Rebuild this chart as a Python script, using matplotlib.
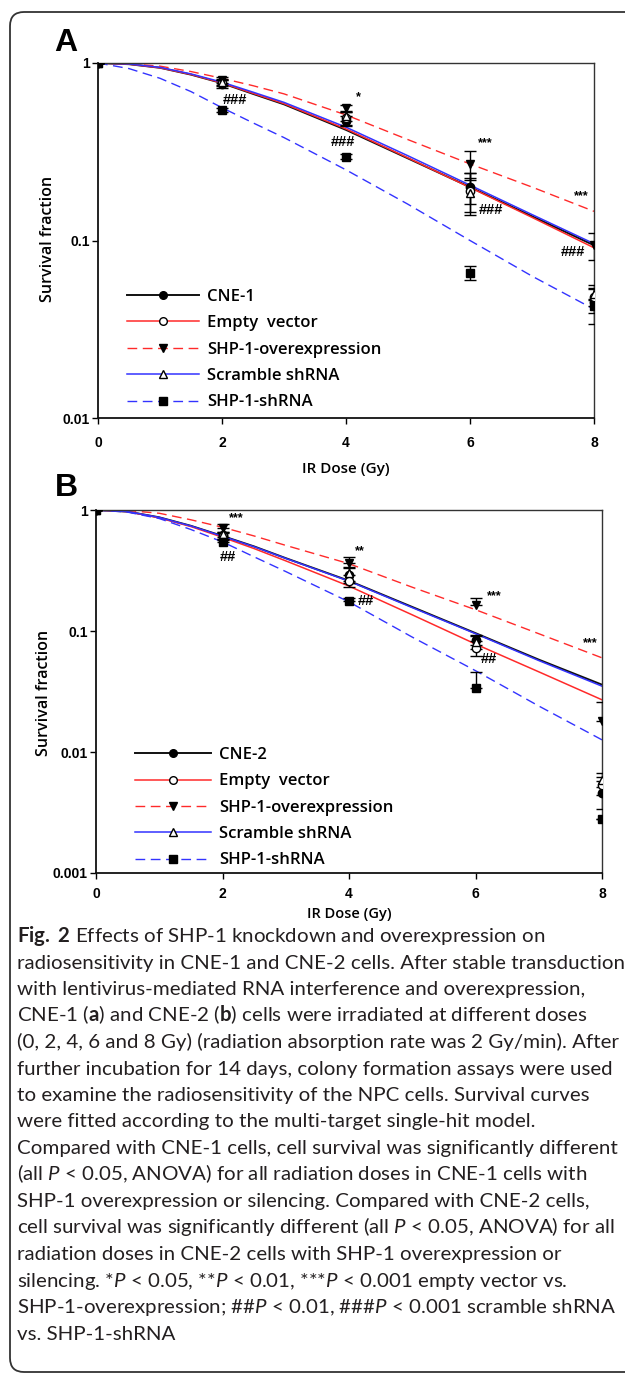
import matplotlib
matplotlib.use('Agg')
import matplotlib.pyplot as plt
from matplotlib.patches import FancyBboxPatch
from matplotlib.lines import Line2D
from matplotlib.ticker import NullLocator

plt.rcParams['mathtext.fontset'] = 'custom'
plt.rcParams['mathtext.rm'] = 'Lato'
plt.rcParams['mathtext.it'] = 'Lato:italic'
plt.rcParams['mathtext.bf'] = 'Lato:bold'

# ---------------- data ----------------
doses = [0, 2, 4, 6, 8]
fit_x = [0, 0.5, 1, 1.5, 2, 2.5, 3, 4, 5, 6, 7, 8]

labels_A = ["CNE-1", "Empty  vector", "SHP-1-overexpression", "Scramble shRNA", "SHP-1-shRNA"]
labels_B = ["CNE-2", "Empty  vector", "SHP-1-overexpression", "Scramble shRNA", "SHP-1-shRNA"]

# Panel A measured survival (mean) and error
ptsA_ctrl = [1, 0.76, 0.47, 0.20, 0.045]
ptsA_empty = [1, 0.77, 0.49, 0.19, 0.048]
ptsA_over = [1, 0.80, 0.56, 0.27, 0.094]
ptsA_scr = [1, 0.78, 0.50, 0.185, 0.050]
ptsA_sh = [1, 0.545, 0.296, 0.066, 0.043]
errA_ctrl = [0, 0.04, 0.03, 0.04, 0.011]
errA_empty = [0, 0.03, 0.04, 0.05, 0.005]
errA_over = [0, 0.03, 0.02, 0.05, 0.016]
errA_scr = [0, 0.03, 0.03, 0.04, 0.004]
errA_sh = [0, 0.015, 0.01, 0.006, 0.004]

# Panel A fitted curves
fitA_ctrl = [1, 0.985, 0.94, 0.86, 0.77, 0.67, 0.585, 0.42, 0.29, 0.20, 0.137, 0.094]
fitA_empty = [1, 0.985, 0.94, 0.862, 0.772, 0.675, 0.59, 0.425, 0.292, 0.199, 0.135, 0.091]
fitA_over = [1, 0.99, 0.96, 0.895, 0.82, 0.745, 0.67, 0.51, 0.37, 0.27, 0.20, 0.146]
fitA_scr = [1, 0.987, 0.945, 0.868, 0.78, 0.685, 0.60, 0.435, 0.30, 0.205, 0.14, 0.096]
fitA_sh = [1, 0.93, 0.82, 0.69, 0.56, 0.46, 0.38, 0.25, 0.16, 0.10, 0.063, 0.041]

# Panel B measured survival and errors (lower, upper)
ptsB_ctrl = [1, 0.62, 0.29, 0.085, 0.0046]
ptsB_empty = [1, 0.61, 0.26, 0.072, 0.0053]
ptsB_over = [1, 0.71, 0.365, 0.164, 0.018]
ptsB_scr = [1, 0.63, 0.30, 0.081, 0.0059]
ptsB_sh = [1, 0.545, 0.177, 0.034, 0.0028]
errB_ctrl = [0, 0.04, 0.04, 0.008, 0.0012]
errB_empty = [0, 0.03, 0.03, 0.01, 0.0009]
errB_over_lo = [0, 0.0, 0.0, 0.0, 0.0]
errB_over_hi = [0, 0.06, 0.045, 0.023, 0.008]
errB_scr = [0, 0.03, 0.04, 0.01, 0.0008]
errB_sh_lo = [0, 0.0, 0.0, 0.0, 0.0]
errB_sh_hi = [0, 0.02, 0.01, 0.012, 0.0]

# Panel B fitted curves
fitB_ctrl = [1, 0.97, 0.87, 0.74, 0.61, 0.50, 0.40, 0.26, 0.158, 0.096, 0.058, 0.036]
fitB_empty = [1, 0.97, 0.86, 0.73, 0.595, 0.48, 0.38, 0.235, 0.136, 0.078, 0.046, 0.027]
fitB_over = [1, 0.99, 0.94, 0.83, 0.72, 0.61, 0.51, 0.36, 0.23, 0.15, 0.095, 0.06]
fitB_scr = [1, 0.97, 0.868, 0.738, 0.607, 0.497, 0.398, 0.258, 0.156, 0.095, 0.057, 0.035]
fitB_sh = [1, 0.96, 0.85, 0.69, 0.545, 0.41, 0.31, 0.174, 0.089, 0.047, 0.024, 0.0126]

x_ticks = [0, 2, 4, 6, 8]
x_ticklabels = ["0", "2", "4", "6", "8"]
yticksA = [1, 0.1, 0.01]
ytick_labelsA = ["1", "0.1", "0.01"]
yticksB = [1, 0.1, 0.01, 0.001]
ytick_labelsB = ["1", "0.1", "0.01", "0.001"]

# significance annotations: (x, y, text)
annA = [(2.21, 0.62, "###"), (4.2, 0.64, "*"), (3.95, 0.36, "###"),
        (6.25, 0.355, "***"), (6.33, 0.149, "###"), (7.8, 0.177, "***"),
        (7.66, 0.0857, "###")]
annB = [(2.22, 0.86, "***"), (2.09, 0.41, "##"), (4.17, 0.46, "**"),
        (4.27, 0.177, "##"), (6.3, 0.195, "***"), (6.21, 0.0587, "##"),
        (7.81, 0.08, "***")]

caption_lines = [
    r"$\mathbf{Fig.}$ $\mathbf{2}$ Effects of SHP-1 knockdown and overexpression on",
    "radiosensitivity in CNE-1 and CNE-2 cells. After stable transduction",
    "with lentivirus-mediated RNA interference and overexpression,",
    r"CNE-1 ($\mathbf{a}$) and CNE-2 ($\mathbf{b}$) cells were irradiated at different doses",
    "(0, 2, 4, 6 and 8 Gy) (radiation absorption rate was 2 Gy/min). After",
    "further incubation for 14 days, colony formation assays were used",
    "to examine the radiosensitivity of the NPC cells. Survival curves",
    "were fitted according to the multi-target single-hit model.",
    "Compared with CNE-1 cells, cell survival was significantly different",
    r"(all $\mathit{P}$ < 0.05, ANOVA) for all radiation doses in CNE-1 cells with",
    "SHP-1 overexpression or silencing. Compared with CNE-2 cells,",
    r"cell survival was significantly different (all $\mathit{P}$ < 0.05, ANOVA) for all",
    "radiation doses in CNE-2 cells with SHP-1 overexpression or",
    r"silencing. *$\mathit{P}$ < 0.05, **$\mathit{P}$ < 0.01, ***$\mathit{P}$ < 0.001 empty vector vs.",
    r"SHP-1-overexpression; ##$\mathit{P}$ < 0.01, ###$\mathit{P}$ < 0.001 scramble shRNA",
    "vs. SHP-1-shRNA",
]

# ---------------- styles ----------------
W, H = 625, 1378
RED = '#ff2a2a'
BLUE = '#3333ff'
BLK = '#111111'
curve_styles = [dict(color=BLK, ls='-', lw=1.4),
                dict(color=RED, ls='-', lw=1.1),
                dict(color=RED, ls=(0, (7, 4)), lw=1.0),
                dict(color=BLUE, ls='-', lw=1.1),
                dict(color=BLUE, ls=(0, (7, 4)), lw=1.0)]
marker_styles = [dict(marker='o', mfc='black'),
                 dict(marker='o', mfc='white'),
                 dict(marker='v', mfc='black'),
                 dict(marker='^', mfc='white'),
                 dict(marker='s', mfc='black')]

TICKFONT = ['Liberation Sans', 'DejaVu Sans']
LEGFONT = ['Open Sans', 'DejaVu Sans']

fig = plt.figure(figsize=(W / 100, H / 100), dpi=100)

bg = fig.add_axes([0, 0, 1, 1], zorder=-5)
bg.set_xlim(0, W)
bg.set_ylim(H, 0)
bg.axis('off')
frame = FancyBboxPatch((10, 12), 660, 1360, boxstyle='round,pad=0,rounding_size=14',
                       fc='white', ec='#333333', lw=1.3)
bg.add_patch(frame)


def px_axes(l, r, t, b):
    return fig.add_axes([l / W, 1 - b / H, (r - l) / W, (b - t) / H])


def draw_panel(ax, fits, pts, errs, ylim, yt, ytl, ann, labels, leg_anchor, leg_len, xpad):
    ax.set_yscale('log')
    for f, st in zip(fits, curve_styles):
        ax.plot(fit_x, f, zorder=2, **st)
    for p, e, ms in zip(pts, errs, marker_styles):
        ax.errorbar(doses, p, yerr=e, fmt='none', ecolor='black', elinewidth=1.0,
                    capsize=4, capthick=1.0, zorder=3)
        ax.plot(doses, p, ls='none', mec='black', ms=6, mew=1.0, zorder=4, **ms)
    for (x, y, t) in ann:
        fs = 10.5 if '#' in t else 9
        ax.text(x, y, t, ha='center', va='center', fontsize=fs, fontweight='bold',
                family=['Liberation Sans', 'DejaVu Sans'], zorder=5)
    ax.set_xlim(0, 8)
    ax.set_ylim(*ylim)
    ax.set_xticks(x_ticks)
    ax.set_xticklabels(x_ticklabels)
    ax.set_yticks(yt)
    ax.set_yticklabels(ytl)
    ax.yaxis.set_minor_locator(NullLocator())
    ax.tick_params(axis='y', length=4, width=1.0, pad=2, labelsize=10)
    ax.tick_params(axis='x', length=4, width=1.0, pad=xpad, labelsize=10)
    for lab in ax.get_xticklabels() + ax.get_yticklabels():
        lab.set_family(TICKFONT)
        lab.set_fontweight('bold')
    for s in ['left', 'bottom']:
        ax.spines[s].set_linewidth(1.3)
        ax.spines[s].set_color('#111111')
    for s in ['top', 'right']:
        ax.spines[s].set_linewidth(1.0)
        ax.spines[s].set_color('#333333')
    handles = [Line2D([], [], mec='black', ms=5.5, mew=1.0, **cs, **ms)
               for cs, ms in zip(curve_styles, marker_styles)]
    leg = ax.legend(handles, labels, loc='upper left', bbox_to_anchor=leg_anchor,
                    bbox_transform=fig.transFigure, frameon=False, borderpad=0,
                    borderaxespad=0, handlelength=leg_len, handletextpad=0.5,
                    labelspacing=0.62, prop=dict(family=LEGFONT, size=12, weight='semibold'))
    return leg


axA = px_axes(98, 594, 63, 418)
draw_panel(axA, [fitA_ctrl, fitA_empty, fitA_over, fitA_scr, fitA_sh],
           [ptsA_ctrl, ptsA_empty, ptsA_over, ptsA_scr, ptsA_sh],
           [errA_ctrl, errA_empty, errA_over, errA_scr, errA_sh],
           (0.01, 1), yticksA, ytick_labelsA, annA, labels_A,
           (127 / W, 1 - 289 / H), 4.3, 9)

axB = px_axes(96, 602, 510, 873)
draw_panel(axB, [fitB_ctrl, fitB_empty, fitB_over, fitB_scr, fitB_sh],
           [ptsB_ctrl, ptsB_empty, ptsB_over, ptsB_scr, ptsB_sh],
           [errB_ctrl, errB_empty, [errB_over_lo, errB_over_hi], errB_scr,
            [errB_sh_lo, errB_sh_hi]],
           (0.001, 1), yticksB, ytick_labelsB, annB, labels_B,
           (135 / W, 1 - 747 / H), 4.55, 6)

# panel letters and axis titles
for (x, y, t) in [(66, 43, 'A'), (66, 488, 'B')]:
    bg.text(x, y, t, ha='center', va='center', fontsize=23, fontweight='bold',
            family=['Liberation Sans', 'DejaVu Sans'])
for (x, y) in [(48, 239), (44, 693)]:
    bg.text(x, y, 'Survival fraction', ha='center', va='center', rotation=90,
            fontsize=11.5, fontweight='semibold', family=LEGFONT)
for (x, y, fs) in [(346, 469, 11), (349, 914, 10.5)]:
    bg.text(x, y, 'IR Dose (Gy)', ha='center', va='center', fontsize=fs,
            fontweight='semibold', family=LEGFONT)

# caption, sized to the measured line width
renderer = fig.canvas.get_renderer()
probe = bg.text(0, 0, caption_lines[1], fontsize=12, family=['Lato', 'DejaVu Sans'])
wpx = probe.get_window_extent(renderer).width
probe.remove()
cap_fs = 12 * 603 / wpx
for i, line in enumerate(caption_lines):
    bg.text(17, 942 + i * 26.5, line, ha='left', va='baseline', fontsize=cap_fs,
            family=['Lato', 'DejaVu Sans'], color='#231f20')

fig.savefig('out.png', dpi=100)
